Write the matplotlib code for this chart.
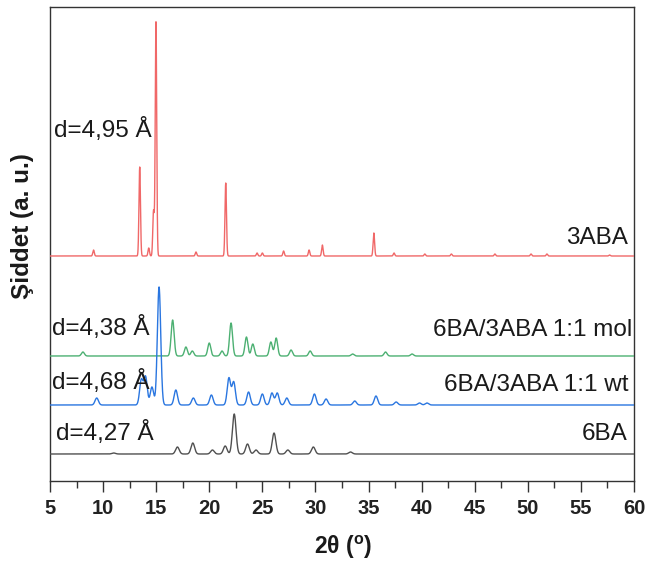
import numpy as np
import matplotlib
matplotlib.use("Agg")
import matplotlib.pyplot as plt

plt.rcParams['font.family'] = ['Liberation Sans', 'DejaVu Sans']
plt.rcParams['mathtext.fontset'] = 'custom'
plt.rcParams['mathtext.rm'] = 'Liberation Sans'
plt.rcParams['mathtext.bf'] = 'Liberation Sans:bold'

# ---- data (peak positions in 2theta, heights in arbitrary units) ----
names = ["3ABA", "6BA/3ABA 1:1 mol", "6BA/3ABA 1:1 wt", "6BA"]
offsets = [225, 125, 76, 27]
d_labels = ["d=4,95 Å", "d=4,38 Å", "d=4,68 Å", "d=4,27 Å"]
colors = ["#f06868", "#4cb072", "#2a76e0", "#505050"]

aba3_pos = [9.1, 13.45, 14.3, 14.75, 14.98, 18.75, 21.55, 24.5, 25.0, 27.0, 29.4, 30.65, 35.5, 37.4, 40.3, 42.8, 46.9, 50.3, 51.8, 57.7]
aba3_h   = [6, 89, 8, 45, 234, 4, 73, 3, 3, 5, 6, 11, 23, 3, 2, 2, 2, 2, 2, 1]

mol_pos = [8.1, 16.55, 17.8, 18.4, 20.0, 21.2, 22.05, 23.5, 24.1, 25.8, 26.3, 27.7, 29.5, 33.5, 36.6, 39.1]
mol_h   = [4, 36, 9, 5, 13, 5, 33, 19, 12, 14, 18, 6, 5, 2, 4, 2]

wt_pos = [9.4, 13.6, 14.0, 14.6, 15.27, 16.85, 18.5, 20.2, 21.85, 22.3, 23.7, 25.0, 25.9, 26.4, 27.3, 29.9, 31.0, 33.7, 35.7, 37.6, 39.8, 40.5]
wt_h   = [7, 25, 28, 18, 118, 15, 7, 10, 27, 23, 13, 11, 12, 12, 7, 11, 6, 4, 9, 3, 2, 2]

ba6_pos = [11.0, 17.0, 18.45, 20.3, 21.5, 22.35, 23.6, 24.4, 26.1, 27.4, 29.8, 33.3]
ba6_h   = [1, 7, 11, 4, 8, 40, 10, 4, 21, 4, 7, 2]

widths = [0.07, 0.14, 0.16, 0.17]

tt = np.arange(5, 60.001, 0.01)

def profile(pos, h, w):
    y = np.zeros_like(tt)
    for p, a in zip(pos, h):
        y += a * np.exp(-0.5 * ((tt - p) / w) ** 2)
    return y

series = [(aba3_pos, aba3_h), (mol_pos, mol_h), (wt_pos, wt_h), (ba6_pos, ba6_h)]

fig = plt.figure(figsize=(6.48, 5.63), dpi=100)
ax = fig.add_axes([50/648, 1-481/563, (634-50)/648, (481-7)/563])

for i in [3, 1, 2, 0]:
    pos, h = series[i]
    ax.plot(tt, offsets[i] + profile(pos, h, widths[i]), color=colors[i], lw=1.0,
            zorder=4 if i == 2 else 3)

ax.set_xlim(5, 60)
ax.set_ylim(0, 474)
ax.set_yticks([])
ax.set_xticks(np.arange(5, 61, 5))
ax.set_xticks(np.arange(7.5, 60, 5), minor=True)
ax.tick_params(axis='x', which='major', direction='out', length=8, width=1, color='#333333',
               labelsize=14.5, pad=5)
ax.tick_params(axis='x', which='minor', direction='out', length=5, width=1, color='#333333')
for lab in ax.get_xticklabels():
    lab.set_fontweight('bold')
    lab.set_color('#222222')
for s in ax.spines.values():
    s.set_color('#333333')
    s.set_linewidth(1.0)

d_pos = [(5.4, 351), (5.15, 153), (5.15, 99), (5.55, 48)]
n_pos = [(59.4, 243), (59.85, 151), (59.5, 96), (59.4, 47)]
for i in range(4):
    ax.text(d_pos[i][0], d_pos[i][1], d_labels[i], fontsize=17.5, ha='left', va='center', color='#1a1a1a', zorder=6)
    ax.text(n_pos[i][0], n_pos[i][1], names[i], fontsize=17.5, ha='right', va='center', color='#1a1a1a', zorder=6)

fig.text(23/648, 1-226/563, "Şiddet (a. u.)", rotation=90, fontsize=17.5, fontweight='bold',
         ha='center', va='center', color='#1a1a1a')
fig.text(343/648, 1-547/563, r"2θ ($^{\mathbf{o}}$)", fontsize=16.5, fontweight='bold',
         ha='center', va='center', color='#1a1a1a')

fig.savefig("out.png", dpi=100)
